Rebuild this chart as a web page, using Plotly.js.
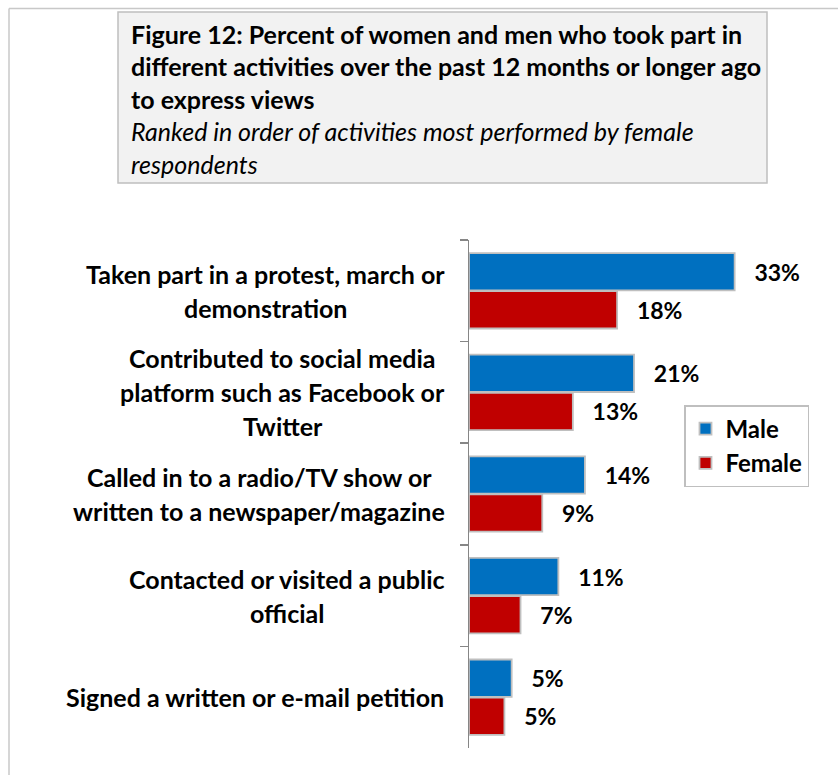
<!DOCTYPE html>
<html>
<head>
<meta charset="utf-8">
<script src="https://cdn.plot.ly/plotly-3.0.1.min.js"></script>
<style>
html,body{margin:0;padding:0;background:#fff;}
#chart{width:838px;height:775px;}
</style>
</head>
<body>
<div id="chart"></div>
<script>
// ---- data ----
var categories = [
  "Taken part in a protest, march or<br>demonstration",
  "Contributed to social media<br>platform such as Facebook or<br>Twitter",
  "Called in to a radio/TV show or<br>written to a newspaper/magazine",
  "Contacted or visited a public<br>official",
  "Signed a written or e-mail petition"
];
var maleValues   = [33.0, 20.5, 14.4, 11.1, 5.3];
var femaleValues = [18.4, 12.9, 9.1, 6.4, 4.4];
var maleLabels   = ["33%", "21%", "14%", "11%", "5%"];
var femaleLabels = ["18%", "13%", "9%", "7%", "5%"];
var seriesNames  = ["Male", "Female"];
var titleLines = [
  "Figure 12: Percent of women and men who took part in",
  "different activities over the past 12 months or longer ago",
  "to express views"
];
var subtitleLines = [
  "Ranked in order of activities most performed by female",
  "respondents"
];

// ---- layout helpers (pixel -> paper) ----
var W = 838, H = 775;
var M = {l: 469, r: 47, t: 240, b: 27};
var PW = W - M.l - M.r, PH = H - M.t - M.b;
function px(x){ return (x - M.l) / PW; }
function py(y){ return (H - M.b - y) / PH; }

var FONT = "Lato, 'Open Sans', sans-serif";
var LABEL_SIZE = 25;
var pad = "\u00a0\u00a0\u00a0";

var traces = [
  {
    type: "bar", orientation: "h", name: seriesNames[0],
    y: categories, x: maleValues,
    text: maleLabels, texttemplate: pad + "%{text}",
    textposition: "outside", constraintext: "none", cliponaxis: false,
    outsidetextfont: {family: FONT, size: 23, color: "#000", weight: "bold"},
    marker: {color: "#0070c0", line: {color: "#bfbfbf", width: 1.8}},
    legendgroup: "m", hoverinfo: "skip"
  },
  {
    type: "bar", orientation: "h", name: seriesNames[1],
    y: categories, x: femaleValues,
    text: femaleLabels, texttemplate: pad + "%{text}",
    textposition: "outside", constraintext: "none", cliponaxis: false,
    outsidetextfont: {family: FONT, size: 23, color: "#000", weight: "bold"},
    marker: {color: "#c00000", line: {color: "#bfbfbf", width: 1.8}},
    legendgroup: "f", hoverinfo: "skip"
  }
];

var annotations = [];
// category labels: one annotation per line, lines centred, block right edge at x=445
var LH = 34;
var cv = document.createElement("canvas").getContext("2d");
cv.font = "bold " + LABEL_SIZE + "px Lato";
categories.forEach(function(c){
  var lines = c.split("<br>");
  var n = lines.length;
  var maxW = 0;
  lines.forEach(function(l){ maxW = Math.max(maxW, cv.measureText(l).width); });
  var centre = 445 - maxW / 2;
  lines.forEach(function(line, i){
    annotations.push({
      xref: "paper", yref: "y", x: px(centre), y: c,
      xanchor: "center", yanchor: "middle",
      text: line, showarrow: false,
      font: {family: FONT, size: LABEL_SIZE, color: "#000", weight: "bold"},
      yshift: -((i - (n - 1) / 2) * LH)
    });
  });
});

// title lines
titleLines.forEach(function(t, i){
  annotations.push({
    xref: "paper", yref: "paper", x: px(129), y: py(34 + i * 32.5),
    xanchor: "left", yanchor: "middle", showarrow: false, text: "<b>" + t + "</b>",
    font: {family: FONT, size: 25, color: "#000"}
  });
});
subtitleLines.forEach(function(t, i){
  annotations.push({
    xref: "paper", yref: "paper", x: px(129), y: py(34 + (i + 3) * 32.5),
    xanchor: "left", yanchor: "middle", showarrow: false, text: "<i>" + t + "</i>",
    font: {family: FONT, size: 25, color: "#000"}
  });
});

var shapes = [
  // outer frame (top + left edges)
  {type: "line", xref: "paper", yref: "paper", x0: px(9), x1: px(838), y0: py(8.5), y1: py(8.5),
   line: {color: "#c8c8c8", width: 1.5}},
  {type: "line", xref: "paper", yref: "paper", x0: px(9), x1: px(9), y0: py(8.5), y1: py(775),
   line: {color: "#c8c8c8", width: 1.5}},
  // title box
  {type: "rect", xref: "paper", yref: "paper", x0: px(118), x1: px(767), y0: py(12), y1: py(183),
   fillcolor: "#f2f2f2", line: {color: "#bfbfbf", width: 1.5}, layer: "below"}
];

var layout = {
  width: W, height: H,
  margin: M,
  paper_bgcolor: "#fff", plot_bgcolor: "rgba(0,0,0,0)",
  barmode: "group", bargap: 0.25, bargroupgap: 0.02,
  showlegend: true,
  legend: {
    x: px(684), y: py(405), xanchor: "left", yanchor: "top",
    bgcolor: "#fff", bordercolor: "#bfbfbf", borderwidth: 1.5,
    font: {family: FONT, size: 24, color: "#000", weight: "bold"},
    tracegroupgap: 6, traceorder: "normal"
  },
  xaxis: {range: [0, 40], visible: false, fixedrange: true},
  yaxis: {
    type: "category", autorange: "reversed",
    showticklabels: false, showgrid: false, zeroline: false,
    showline: true, linecolor: "#868686", linewidth: 1.5,
    ticks: "outside", tickson: "boundaries", ticklen: 8, tickcolor: "#868686", tickwidth: 1.5
  },
  font: {family: FONT},
  shapes: shapes,
  annotations: annotations
};

Plotly.newPlot("chart", traces, layout, {displayModeBar: false, staticPlot: true});
</script>
</body>
</html>
